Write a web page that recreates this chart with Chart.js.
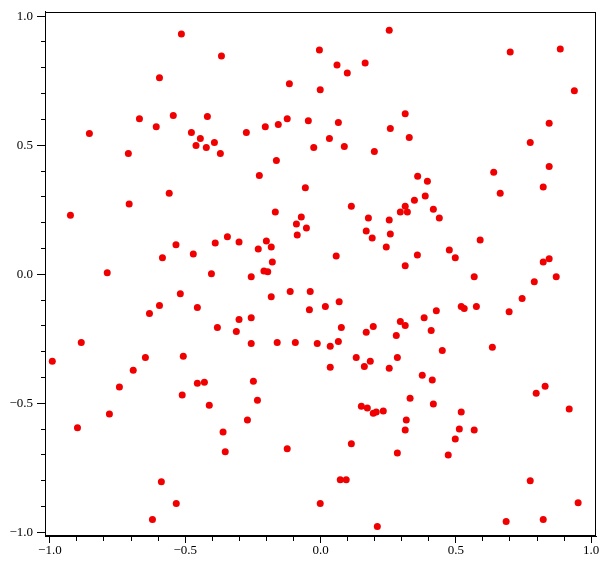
<!DOCTYPE html>
<html>
<head>
<meta charset="utf-8">
<script src="https://cdn.jsdelivr.net/npm/chart.js@4/dist/chart.umd.min.js"></script>
<style>
  html, body { margin: 0; padding: 0; background: #fff; }
  canvas { display: block; }
</style>
</head>
<body>
<canvas id="chart" width="606" height="567"></canvas>
<script>
// scatter values
const pointX = [
  -0.514, -0.366, -0.595, -0.669, -0.544, -0.418, -0.607, -0.854, -0.477, -0.444,
  -0.460, -0.422, -0.392, -0.370, -0.710, 0.254, -0.004, 0.061, 0.099, 0.165,
  -0.115, -0.001, 0.313, -0.123, -0.045, 0.066, -0.204, -0.156, -0.274, 0.258,
  0.328, 0.033, -0.025, 0.088, 0.199, -0.163, -0.226, 0.359, -0.056, 0.701,
  0.886, 0.938, 0.845, 0.775, 0.845, 0.640, 0.395, 0.823, -0.559, -0.707,
  -0.924, -0.534, -0.344, -0.389, -0.301, -0.584, -0.470, -0.788, -0.403, -0.518,
  -0.595, -0.632, -0.455, -0.301, -0.381, -0.311, -0.884, -0.991, -0.647, -0.507,
  -0.167, 0.114, -0.071, -0.089, -0.052, -0.086, 0.177, 0.254, 0.169, 0.191,
  0.258, 0.243, 0.347, 0.313, 0.295, 0.321, -0.200, -0.230, -0.182, -0.178,
  -0.209, -0.195, -0.256, 0.058, 0.313, 0.358, -0.112, -0.038, -0.182, -0.041,
  0.018, 0.069, -0.256, 0.077, 0.195, 0.169, 0.295, 0.313, 0.280, -0.256,
  -0.160, -0.093, -0.012, 0.036, 0.066, 0.132, 0.184, 0.284, 0.664, 0.387,
  0.417, 0.439, 0.590, 0.476, 0.498, 0.823, 0.845, 0.568, 0.790, 0.871,
  0.745, 0.697, 0.520, 0.531, 0.576, 0.428, 0.383, 0.409, 0.450, 0.635,
  -0.692, -0.743, -0.780, -0.898, -0.511, -0.455, -0.429, -0.411, -0.360, -0.352,
  -0.588, -0.533, -0.621, 0.036, 0.162, 0.254, 0.376, -0.248, -0.233, -0.270,
  0.331, 0.151, 0.173, 0.195, 0.206, 0.232, 0.317, 0.313, 0.114, 0.284,
  -0.123, 0.073, 0.095, -0.001, 0.210, 0.413, 0.417, 0.520, 0.513, 0.568,
  0.498, 0.472, 0.797, 0.830, 0.919, 0.775, 0.952, 0.686, 0.823
]
const pointY = [
  0.931, 0.846, 0.761, 0.603, 0.615, 0.611, 0.572, 0.545, 0.549, 0.526,
  0.499, 0.491, 0.511, 0.468, 0.468, 0.946, 0.869, 0.811, 0.780, 0.819,
  0.738, 0.715, 0.622, 0.603, 0.595, 0.588, 0.572, 0.580, 0.549, 0.565,
  0.530, 0.526, 0.491, 0.495, 0.476, 0.441, 0.383, 0.380, 0.335, 0.861,
  0.873, 0.711, 0.585, 0.511, 0.418, 0.395, 0.360, 0.338, 0.314, 0.272,
  0.229, 0.114, 0.145, 0.121, 0.125, 0.064, 0.079, 0.006, 0.002, -0.075,
  -0.121, -0.152, -0.129, -0.175, -0.206, -0.222, -0.264, -0.337, -0.322, -0.318,
  0.241, 0.264, 0.222, 0.195, 0.179, 0.152, 0.218, 0.210, 0.168, 0.141,
  0.156, 0.106, 0.287, 0.264, 0.241, 0.241, 0.129, 0.098, 0.106, 0.048,
  0.013, 0.010, -0.010, 0.071, 0.033, 0.075, -0.067, -0.067, -0.087, -0.137,
  -0.125, -0.106, -0.168, -0.206, -0.202, -0.225, -0.183, -0.198, -0.237, -0.268,
  -0.264, -0.264, -0.268, -0.279, -0.260, -0.322, -0.337, -0.322, 0.314, 0.303,
  0.252, 0.218, 0.133, 0.094, 0.064, 0.048, 0.060, -0.010, -0.029, -0.010,
  -0.094, -0.145, -0.125, -0.133, -0.125, -0.141, -0.168, -0.218, -0.295, -0.283,
  -0.372, -0.437, -0.541, -0.595, -0.468, -0.422, -0.418, -0.507, -0.611, -0.688,
  -0.804, -0.888, -0.950, -0.360, -0.357, -0.364, -0.391, -0.414, -0.488, -0.565,
  -0.480, -0.511, -0.518, -0.538, -0.534, -0.530, -0.565, -0.603, -0.657, -0.692,
  -0.676, -0.796, -0.796, -0.888, -0.977, -0.410, -0.503, -0.534, -0.599, -0.603,
  -0.638, -0.700, -0.461, -0.434, -0.522, -0.800, -0.885, -0.958, -0.950
]

// axis limits and labelled ticks
const xRange = [-1.018, 1.018]
const yRange = [-1.014, 1.017]
const majorTicks = [-1.0, -0.5, 0.0, 0.5, 1.0]
const minorStep = 0.1

const points = pointX.map((x, i) => ({ x: x, y: pointY[i] }))

function isMajor(v) {
  return majorTicks.some((m) => Math.abs(m - v) < 1e-6)
}

function tickLabel(v) {
  if (!isMajor(v)) return ''
  let s = Math.abs(v).toFixed(1)
  return v < -1e-6 ? '\u2212' + s : s
}

// draws the closed box round the plot area
const framePlugin = {
  id: 'frame',
  afterDraw(chart) {
    const a = chart.chartArea
    const ctx = chart.ctx
    ctx.save()
    ctx.strokeStyle = '#000'
    ctx.lineWidth = 1
    ctx.strokeRect(Math.round(a.left) + 0.5, Math.round(a.top) + 0.5,
      Math.round(a.right - a.left) - 1, Math.round(a.bottom - a.top) - 1)
    ctx.restore()
  },
}

const tickFont = { family: '"Liberation Serif", "Times New Roman", serif', size: 13 }

new Chart(document.getElementById('chart'), {
  type: 'scatter',
  data: {
    datasets: [
      {
        data: points,
        backgroundColor: 'rgb(240,0,0)',
        borderWidth: 0,
        pointRadius: 3.5,
        pointHoverRadius: 3.5,
      },
    ],
  },
  options: {
    responsive: false,
    animation: false,
    layout: { padding: { top: 9, right: 10, left: 0, bottom: 0 } },
    plugins: {
      legend: { display: false },
      tooltip: { enabled: false },
    },
    scales: {
      x: {
        type: 'linear',
        min: xRange[0],
        max: xRange[1],
        afterFit: (scale) => { scale.height = 31 },
        border: { display: true, color: '#000', width: 1 },
        grid: {
          drawOnChartArea: false,
          drawTicks: true,
          tickLength: 7,
          tickColor: '#000',
          tickWidth: 1,
          tickBorderDash: (c) => (isMajor(c.tick.value) ? [] : [4, 20]),
        },
        ticks: {
          stepSize: minorStep,
          includeBounds: false,
          autoSkip: false,
          maxRotation: 0,
          padding: 0,
          color: '#000',
          font: tickFont,
          callback: (v) => tickLabel(v),
        },
      },
      y: {
        type: 'linear',
        min: yRange[0],
        max: yRange[1],
        afterFit: (scale) => { scale.width = 45 },
        border: { display: true, color: '#000', width: 1 },
        grid: {
          drawOnChartArea: false,
          drawTicks: true,
          tickLength: 8,
          tickColor: '#000',
          tickWidth: 1,
          tickBorderDash: (c) => (isMajor(c.tick.value) ? [] : [4, 4]),
          tickBorderDashOffset: (c) => (isMajor(c.tick.value) ? 0 : 4),
        },
        ticks: {
          stepSize: minorStep,
          includeBounds: false,
          autoSkip: false,
          padding: 4,
          color: '#000',
          font: tickFont,
          callback: (v) => tickLabel(v),
        },
      },
    },
  },
  plugins: [framePlugin],
})
</script>
</body>
</html>
